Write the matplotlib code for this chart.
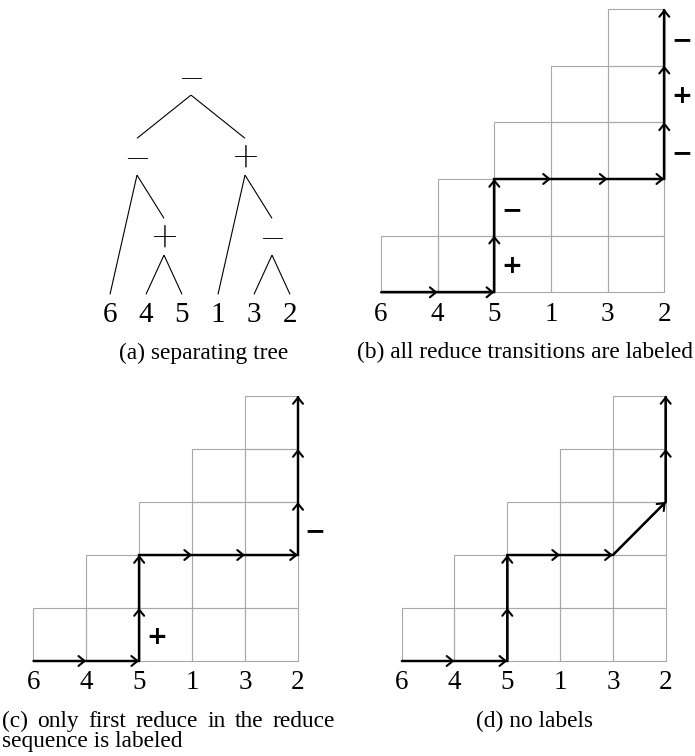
import matplotlib
matplotlib.use('Agg')
import matplotlib.pyplot as plt
from matplotlib.patches import Rectangle, FancyArrowPatch

plt.rcParams['mathtext.fontset'] = 'cm'

W, H = 695, 756
SERIF = ['Liberation Serif', 'DejaVu Serif']
GRID_GRAY = '#a8a8a8'

# ------------------------------------------------------------
# data
# ------------------------------------------------------------
perm = ['6', '4', '5', '1', '3', '2']

# separating tree: node -> (operator, left child, right child); ints = leaf index
tree_nodes = {
    'root': ('−', 'L', 'R'),
    'L': ('−', 0, 'L2'),
    'L2': ('+', 1, 2),
    'R': ('+', 3, 'R2'),
    'R2': ('−', 4, 5),
}

# S = shift (right), R = reduce (up), D = shift and reduce in one step
moves_b = 'SSRRSSSRRR'
moves_c = 'SSRRSSSRRR'
moves_d = 'SSRRSSDRR'
# labels of the reduce steps in order ('' = no label)
labels_b = ['+', '−', '−', '+', '−']
labels_c = ['+', '', '−', '', '']
labels_d = []

cap_a = '(a) separating tree'
cap_b = '(b) all reduce transitions are labeled'
cap_c = ['(c) only first reduce in the reduce', 'sequence is labeled']
cap_d = '(d) no labels'

fig = plt.figure(figsize=(W / 100, H / 100), dpi=100)
fig.patch.set_facecolor('white')


def panel_axes(x0, y0, x1, y1, xlim, ylim):
    # pixel rectangle (top-left origin) -> axes with given data limits
    ax = fig.add_axes([x0 / W, 1 - y1 / H, (x1 - x0) / W, (y1 - y0) / H])
    ax.set_xlim(*xlim)
    ax.set_ylim(*ylim)
    ax.axis('off')
    return ax


# ------------------------------------------------------------
# (a) separating tree
# ------------------------------------------------------------
ax = panel_axes(110, 76.7, 290, 316.7, (0, 5), (3, 0))
LEAF_DEPTH = 2.95
GAP = 0.23
pos = {}


def place(key, depth):
    if isinstance(key, int):
        pos[key] = (key, LEAF_DEPTH)
        return key
    op, l, r = tree_nodes[key]
    x = (place(l, depth + 1) + place(r, depth + 1)) / 2
    pos[key] = (x, depth)
    return x


place('root', 0)
for key, (op, l, r) in tree_nodes.items():
    px, py = pos[key]
    ax.text(px, py - 0.02, '$' + ('-' if op == '−' else '+') + '$', ha='center',
            va='center', fontsize=24, clip_on=False)
    for ch in (l, r):
        cx, cy = pos[ch]
        ax.plot([px, cx], [py + GAP, cy - GAP], color='black', lw=0.8,
                solid_capstyle='butt', clip_on=False)
for i, lab in enumerate(perm):
    ax.text(i, LEAF_DEPTH + 0.12, lab, ha='center', va='baseline', fontsize=21,
            family=SERIF, clip_on=False)


# ------------------------------------------------------------
# (b)-(d) shift/reduce grids
# ------------------------------------------------------------
def draw_grid(ax, moves, labels):
    n = len(perm) - 1
    for c in range(n):
        for r in range(c + 1):
            ax.add_patch(Rectangle((c, r), 1, 1, fill=False, edgecolor=GRID_GRAY,
                                   lw=0.8, clip_on=False))
    for i, lab in enumerate(perm):
        ax.annotate(lab, (i, 0), xytext=(0, -20.5), textcoords='offset points',
                    ha='center', va='baseline', fontsize=19.5, family=SERIF,
                    annotation_clip=False)
    step = {'S': (1, 0), 'R': (0, 1), 'D': (1, 1)}
    xs, ys = [0], [0]
    for m in moves:
        xs.append(xs[-1] + step[m][0])
        ys.append(ys[-1] + step[m][1])
    ax.plot(xs, ys, color='black', lw=1.7, solid_joinstyle='miter',
            solid_capstyle='butt', clip_on=False)
    k = 0
    for j, m in enumerate(moves):
        ax.add_patch(FancyArrowPatch((xs[j], ys[j]), (xs[j + 1], ys[j + 1]),
                                     arrowstyle='->,head_length=0.42,head_width=0.34',
                                     mutation_scale=10.5, lw=1.5, color='black',
                                     shrinkA=0, shrinkB=0, clip_on=False))
        if m == 'R':
            if k < len(labels) and labels[k]:
                ax.annotate(labels[k], (xs[j], ys[j] + 0.5), xytext=(12.5, 0),
                            textcoords='offset points', ha='center',
                            va='center_baseline', fontsize=18, fontweight='bold',
                            family='DejaVu Sans', annotation_clip=False)
            k += 1


ax_b = panel_axes(381, 9, 664.3, 292.3, (0, 5), (0, 5))
draw_grid(ax_b, moves_b, labels_b)
ax_c = panel_axes(33.3, 396, 298, 661, (0, 5), (0, 5))
draw_grid(ax_c, moves_c, labels_c)
ax_d = panel_axes(401.7, 396, 665.7, 661, (0, 5), (0, 5))
draw_grid(ax_d, moves_d, labels_d)

# ------------------------------------------------------------
# captions
# ------------------------------------------------------------
CAP_FS = 16.8
fig.text(204 / W, 1 - 358.5 / H, cap_a, ha='center', va='baseline', fontsize=CAP_FS, family=SERIF)
fig.text(525 / W, 1 - 358.5 / H, cap_b, ha='center', va='baseline', fontsize=CAP_FS, family=SERIF)
fig.text(535 / W, 1 - 727 / H, cap_d, ha='center', va='baseline', fontsize=CAP_FS, family=SERIF)

# caption (c): first line justified between x=2 and x=335 px
renderer = fig.canvas.get_renderer()
words = cap_c[0].split()
widths = []
for w in words:
    t = fig.text(0, 0, w, fontsize=CAP_FS, family=SERIF)
    widths.append(t.get_window_extent(renderer).width)
    t.remove()
gap = (333 - sum(widths)) / (len(words) - 1)
x = 2
for w, wd in zip(words, widths):
    fig.text(x / W, 1 - 727 / H, w, ha='left', va='baseline', fontsize=CAP_FS, family=SERIF)
    x += wd + gap
fig.text(2 / W, 1 - 747 / H, cap_c[1], ha='left', va='baseline', fontsize=CAP_FS, family=SERIF)

fig.savefig('out.png', dpi=100, facecolor='white')
